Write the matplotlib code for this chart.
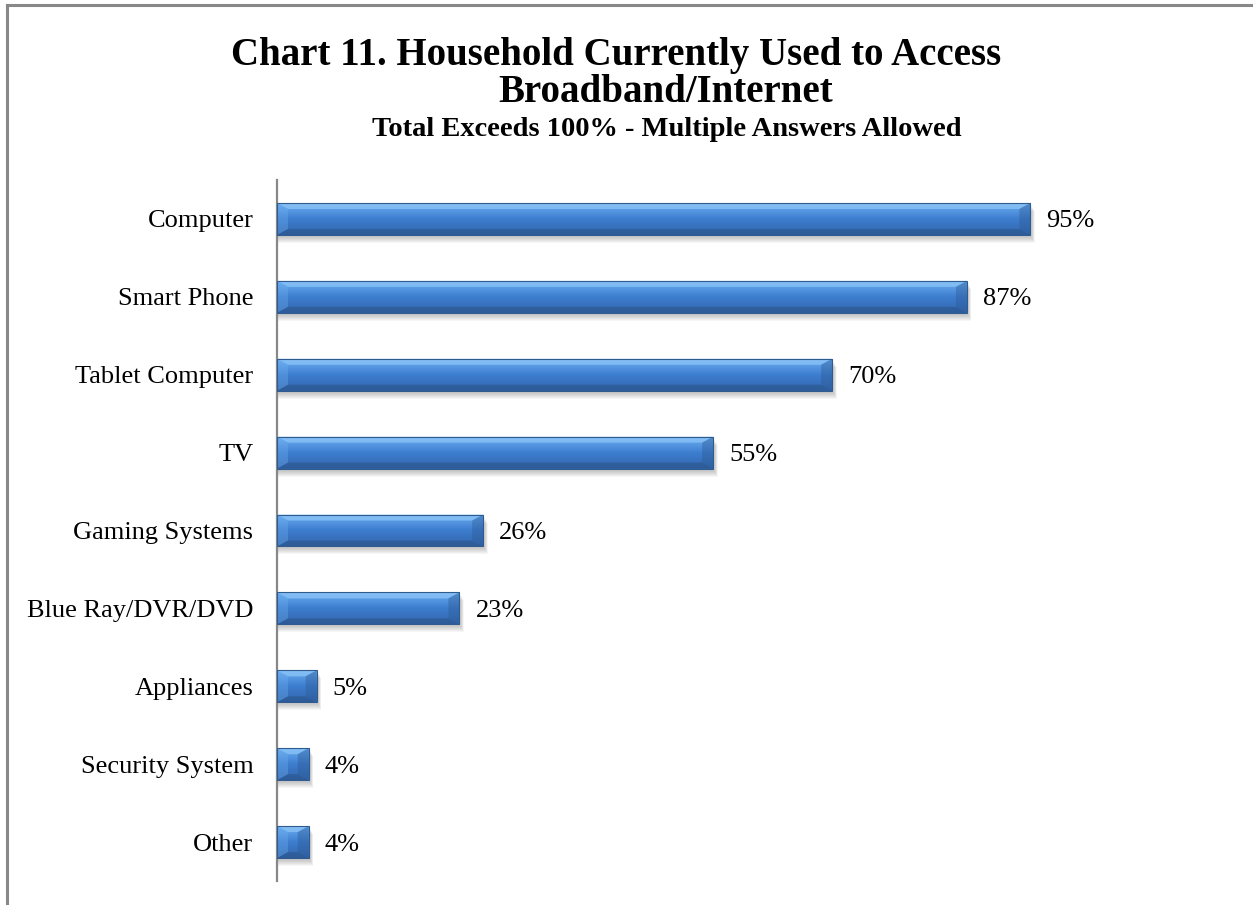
import numpy as np
import matplotlib
matplotlib.use("Agg")
import matplotlib.pyplot as plt
from matplotlib.patches import Polygon, Rectangle
from matplotlib.lines import Line2D

categories = ["Computer", "Smart Phone", "Tablet Computer", "TV", "Gaming Systems",
              "Blue Ray/DVR/DVD", "Appliances", "Security System", "Other"]
values = [95, 87, 70, 55, 26, 23, 5, 4, 4]
labels = ["95%", "87%", "70%", "55%", "26%", "23%", "5%", "4%", "4%"]

plt.rcParams["font.family"] = ["Liberation Serif", "DejaVu Serif"]

W, H = 1253, 905
fig = plt.figure(figsize=(W / 100, H / 100), dpi=100)
fig.patch.set_facecolor("white")

# frame lines along the top and left edge
fig.add_artist(Line2D([7 / W, 7 / W], [0, 1 - 5 / H], color="#888888", lw=2.2))
fig.add_artist(Line2D([7 / W, 1252 / W], [1 - 5 / H, 1 - 5 / H], color="#888888", lw=2.2))

# titles
fig.text(616 / W, 1 - 55 / H, "Chart 11. Household Currently Used to Access",
         ha="center", va="center", fontsize=28, fontweight="bold")
fig.text(666 / W, 1 - 93 / H, "Broadband/Internet",
         ha="center", va="center", fontsize=28, fontweight="bold")
fig.text(667 / W, 1 - 130 / H, "Total Exceeds 100% - Multiple Answers Allowed",
         ha="center", va="center", fontsize=20.5, fontweight="bold")

ax_left, ax_right = 277, 1230
ax_top, ax_bot = 180, 881
ax = fig.add_axes([ax_left / W, 1 - ax_bot / H, (ax_right - ax_left) / W, (ax_bot - ax_top) / H])
n = len(categories)
xmax = (ax_right - ax_left) / 7.93
ax.set_xlim(0, xmax)
ax.set_ylim(n - 0.5, -0.5)
ax.set_facecolor("none")
for s in ["top", "right", "bottom"]:
    ax.spines[s].set_visible(False)
ax.spines["left"].set_color("#888888")
ax.spines["left"].set_linewidth(1.6)
ax.set_xticks([])
ax.set_yticks(range(n))
ax.set_yticklabels(categories, fontsize=19)
ax.tick_params(axis="y", length=0, pad=17)
for t in ax.get_yticklabels():
    t.set_va("center_baseline")

# pixel -> data scale
px_x = xmax / (ax_right - ax_left)
px_y = n / (ax_bot - ax_top)

bh = 0.41
bev_x = 11 * px_x
bev_y = 6 * px_y

grad = np.linspace(0, 1, 64).reshape(-1, 1)
top_c = np.array([0.42, 0.68, 0.95])
mid_c = np.array([0.24, 0.49, 0.81])
bot_c = np.array([0.20, 0.40, 0.68])
cols = np.where(grad < 0.5,
                top_c + (mid_c - top_c) * (grad / 0.5),
                mid_c + (bot_c - mid_c) * ((grad - 0.5) / 0.5))
img = np.repeat(cols[:, None, :], 2, axis=1)

bars = ax.barh(range(n), values, height=bh, color="none", zorder=3)
for i, (b, v) in enumerate(zip(bars, values)):
    y0, y1 = i - bh / 2, i + bh / 2
    # soft shadow below the bar
    for k in range(6):
        off = (3 + k) * px_y
        ax.add_patch(Rectangle((0, y0 + off), v + (2 + k * 0.5) * px_x, bh,
                               facecolor="#000000", alpha=0.035, lw=0, zorder=2))
    # gradient body
    im = ax.imshow(img, extent=(0, v, y1, y0), aspect="auto", zorder=3,
                   interpolation="bilinear")
    im.set_clip_path(b)
    bx = min(bev_x, v / 2)
    # bevel faces
    ax.add_patch(Polygon([(0, y0), (v, y0), (v - bx, y0 + bev_y), (bx, y0 + bev_y)],
                         closed=True, facecolor="#8cc4f7", alpha=0.75, lw=0, zorder=4))
    ax.add_patch(Polygon([(0, y1), (v, y1), (v - bx, y1 - bev_y), (bx, y1 - bev_y)],
                         closed=True, facecolor="#2a5488", alpha=0.55, lw=0, zorder=4))
    ax.add_patch(Polygon([(0, y0), (bx, y0 + bev_y), (bx, y1 - bev_y), (0, y1)],
                         closed=True, facecolor="#6fb0f0", alpha=0.35, lw=0, zorder=4))
    ax.add_patch(Polygon([(v, y0), (v - bx, y0 + bev_y), (v - bx, y1 - bev_y), (v, y1)],
                         closed=True, facecolor="#2c5a92", alpha=0.4, lw=0, zorder=4))
    ax.add_patch(Rectangle((0, y0), v, bh, facecolor="none", edgecolor="#2f5b8e",
                           lw=0.8, zorder=5))
    ax.text(v + 16 * px_x, i, labels[i], ha="left", va="center_baseline",
            fontsize=19, zorder=6)

fig.savefig("out.png", dpi=100, facecolor="white")
